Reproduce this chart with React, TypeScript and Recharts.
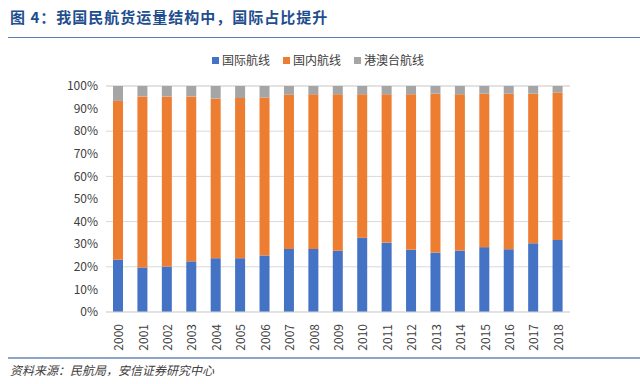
import React from 'react';
import { BarChart, Bar, XAxis, YAxis, CartesianGrid } from 'recharts';

const years = ['2000', '2001', '2002', '2003', '2004', '2005', '2006', '2007', '2008', '2009', '2010', '2011', '2012', '2013', '2014', '2015', '2016', '2017', '2018'];
// share of cargo volume, %
const intl = [23.1, 19.7, 20.1, 22.4, 23.8, 23.8, 25.0, 27.9, 27.9, 27.1, 32.9, 30.7, 27.5, 26.3, 27.2, 28.7, 27.8, 30.4, 31.9];
const domestic = [70.3, 75.7, 75.3, 73.0, 70.6, 70.9, 69.9, 68.3, 68.4, 69.2, 63.4, 65.6, 68.8, 70.3, 69.1, 67.9, 68.8, 66.2, 65.2];
const hkMacauTw = [6.6, 4.6, 4.6, 4.6, 5.6, 5.3, 5.1, 3.8, 3.7, 3.7, 3.7, 3.7, 3.7, 3.4, 3.7, 3.4, 3.4, 3.4, 2.9];
const yTicks = [0, 10, 20, 30, 40, 50, 60, 70, 80, 90, 100];

const series = [
    { key: 'intl', name: '国际航线', color: '#4472C4' },
    { key: 'domestic', name: '国内航线', color: '#ED7D31' },
    { key: 'hk', name: '港澳台航线', color: '#A5A5A5' },
];

const data = years.map((y, i) => ({ year: y, intl: intl[i], domestic: domestic[i], hk: hkMacauTw[i] }));

const font = '"Noto Sans CJK SC", "Noto Sans", sans-serif';

const YearTick = (props: any) => {
    const { x, y, payload } = props;
    return (
        <text x={x} y={y} transform={`rotate(-90, ${x}, ${y})`} dx={-4} dy={5} textAnchor="end" fill="#404040" fontSize={12} fontFamily={font}>
            {payload.value}
        </text>
    );
};

const App: React.FC = () => {
    return (
        <div style={{ position: 'absolute', left: 0, top: 0, width: 640, height: 384, background: '#fff', fontFamily: font }}>
            <div style={{ position: 'absolute', left: 10, top: 6, fontSize: 15, fontWeight: 'bold', color: '#1F4E8F', letterSpacing: 1 }}>
                图 4：我国民航货运量结构中，国际占比提升
            </div>
            <div style={{ position: 'absolute', left: 8, top: 37, width: 632, height: 1, background: '#5B7DB1' }} />
            <div style={{ position: 'absolute', left: 212, top: 51, display: 'flex', fontSize: 12, color: '#404040', lineHeight: '18px' }}>
                {series.map((s) => (
                    <div key={s.key} style={{ display: 'flex', alignItems: 'center', marginRight: 13 }}>
                        <span style={{ width: 7, height: 7, background: s.color, marginRight: 3 }} />
                        {s.name}
                    </div>
                ))}
            </div>
            <div style={{ position: 'absolute', left: 0, top: 0 }}>
                <BarChart width={640} height={384} data={data} margin={{ top: 86, right: 70, bottom: 32, left: 46 }} barSize={10}>
                    <CartesianGrid vertical={false} stroke="#d9d9d9" />
                    <XAxis dataKey="year" tick={<YearTick />} tickLine={false} axisLine={{ stroke: '#d9d9d9' }} interval={0} height={40} />
                    <YAxis domain={[0, 100]} ticks={yTicks} tickFormatter={(v) => `${v}%`} tick={{ fill: '#404040', fontSize: 12, fontFamily: font }} tickLine={false} axisLine={false} width={60} />
                    {series.map((s) => (
                        <Bar key={s.key} dataKey={s.key} name={s.name} stackId="a" fill={s.color} isAnimationActive={false} />
                    ))}
                </BarChart>
            </div>
            <div style={{ position: 'absolute', left: 8, top: 357, width: 632, height: 2, background: '#8EA3C8' }} />
            <div style={{ position: 'absolute', left: 10, top: 361, fontSize: 12, fontStyle: 'italic', color: '#404040' }}>
                资料来源：民航局，安信证券研究中心
            </div>
        </div>
    );
};

export default App;
